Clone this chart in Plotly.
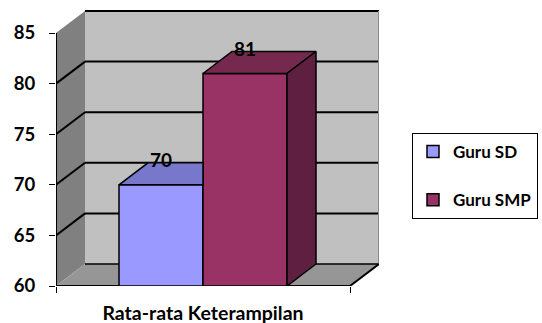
import plotly.graph_objects as go

# ---------------- data ----------------
category = "Rata-rata Keterampilan"
series_names = ["Guru SD", "Guru SMP"]
values = [70, 81]
front_colors = ["#9999FF", "#993366"]
top_colors = ["#7777CC", "#76294F"]
side_colors = ["#5C5CA0", "#5F1F40"]
y_ticks = [60, 65, 70, 75, 80, 85]

# ---------------- geometry (axis units) ----------------
Y_MIN, Y_MAX = 60, 85
DX = 29 / 294          # depth offset along x (category units)
DV = 22 / 10.12        # depth offset along y (value units)
BAR_W = 84 / 294       # bar width in category units
X_MAX = 1 + DX
Y_TOP = 60 + 276 / 10.12

FONT = "Lato"
fig = go.Figure()

shapes = []
def poly(pts, fill, line_color=None, lw=0, layer="below"):
    path = "M " + " L ".join(f"{x},{y}" for x, y in pts) + " Z"
    return dict(type="path", xref="x", yref="y", path=path, fillcolor=fill,
                line=dict(color=line_color or fill, width=lw), layer=layer)

def seg(x0, y0, x1, y1, color="black", w=2, layer="below"):
    return dict(type="line", xref="x", yref="y", x0=x0, y0=y0, x1=x1, y1=y1,
                line=dict(color=color, width=w), layer=layer)

# back wall, side wall, floor
shapes.append(poly([(DX, Y_MIN + DV), (1 + DX, Y_MIN + DV), (1 + DX, Y_MAX + DV), (DX, Y_MAX + DV)], "#C0C0C0"))
shapes.append(poly([(0, Y_MIN), (DX, Y_MIN + DV), (DX, Y_MAX + DV), (0, Y_MAX)], "#808080"))
shapes.append(poly([(0, Y_MIN), (1, Y_MIN), (1 + DX, Y_MIN + DV), (DX, Y_MIN + DV)], "#969696"))
# gridlines on back wall and side wall
for v in y_ticks:
    shapes.append(seg(DX, v + DV, 1 + DX, v + DV, w=2 if v > Y_MIN else 1.5))
    if Y_MIN < v < Y_MAX:
        shapes.append(seg(0, v, DX, v + DV, w=2))
# back wall right edge
shapes.append(seg(1 + DX, Y_MIN + DV, 1 + DX, Y_MAX + DV, color="#8A8A8A", w=2))
# floor edges + value axis line
shapes.append(seg(0, Y_MIN, 1, Y_MIN, w=2))
shapes.append(seg(1, Y_MIN, 1 + DX, Y_MIN + DV, w=2))
shapes.append(seg(0, Y_MIN, 0, Y_MAX, w=2))

# ---------------- bars ----------------
n = len(values)
centers = [0.5 + (i - (n - 1) / 2) * BAR_W for i in range(n)]
for i, (name, v) in enumerate(zip(series_names, values)):
    fig.add_trace(go.Bar(
        x=[centers[i]], y=[v - Y_MIN], base=[Y_MIN], width=BAR_W, name=name,
        legendgroup=name,
        marker=dict(color=front_colors[i], line=dict(color="black", width=1.5)),
        hoverinfo="skip"))

for i, v in enumerate(values):
    x0, x1 = centers[i] - BAR_W / 2, centers[i] + BAR_W / 2
    hidden_right = i < n - 1 and values[i + 1] >= v + DV
    if hidden_right:
        top = [(x0, v), (x1, v), (x1, v + DV), (x0 + DX, v + DV)]
    else:
        top = [(x0, v), (x1, v), (x1 + DX, v + DV), (x0 + DX, v + DV)]
    fig.add_trace(go.Scatter(
        x=[p[0] for p in top] + [top[0][0]], y=[p[1] for p in top] + [top[0][1]],
        mode="lines", fill="toself", fillcolor=top_colors[i],
        line=dict(color="black", width=1.5), showlegend=False, hoverinfo="skip"))
    if not hidden_right:
        side = [(x1, Y_MIN), (x1 + DX, Y_MIN + DV), (x1 + DX, v + DV), (x1, v)]
        fig.add_trace(go.Scatter(
            x=[p[0] for p in side] + [side[0][0]], y=[p[1] for p in side] + [side[0][1]],
            mode="lines", fill="toself", fillcolor=side_colors[i],
            line=dict(color="black", width=1.5), showlegend=False, hoverinfo="skip"))

annotations = []
for i, v in enumerate(values):
    annotations.append(dict(x=centers[i], y=v + DV, xref="x", yref="y", text=str(v),
                            showarrow=False, yanchor="middle", yshift=3,
                            font=dict(family=FONT, size=19, color="black", weight="bold")))

fig.update_layout(
    width=542, height=323,
    margin=dict(l=56, r=542 - 379, t=10, b=37, autoexpand=False),
    paper_bgcolor="white", plot_bgcolor="white",
    barmode="overlay",
    shapes=shapes, annotations=annotations,
    showlegend=True,
    legend=dict(x=(412 - 56) / 323, y=(286 - 133) / 276, xanchor="left", yanchor="top",
                bordercolor="black", borderwidth=1, bgcolor="white",
                traceorder="grouped", tracegroupgap=23, itemwidth=30,
                font=dict(family=FONT, size=17, color="black", weight="bold")),
    xaxis=dict(range=[0, X_MAX], showgrid=False, zeroline=False, showline=False,
               tickmode="array", tickvals=[0.5], ticktext=[category], ticks="",
               ticklabelstandoff=13,
               tickfont=dict(family=FONT, size=19.5, color="black", weight="bold"),
               minor=dict(tickmode="array", tickvals=[0, 1], ticks="outside", ticklen=6,
                          tickcolor="black", tickwidth=1, showgrid=False)),
    yaxis=dict(range=[Y_MIN, Y_TOP], showgrid=False, zeroline=False, showline=False,
               tickmode="array", tickvals=y_ticks, ticks="outside", ticklen=6,
               tickcolor="black", tickwidth=1, ticklabelstandoff=10,
               tickfont=dict(family=FONT, size=18.5, color="black", weight="bold")),
)

fig.write_html("out.html")
